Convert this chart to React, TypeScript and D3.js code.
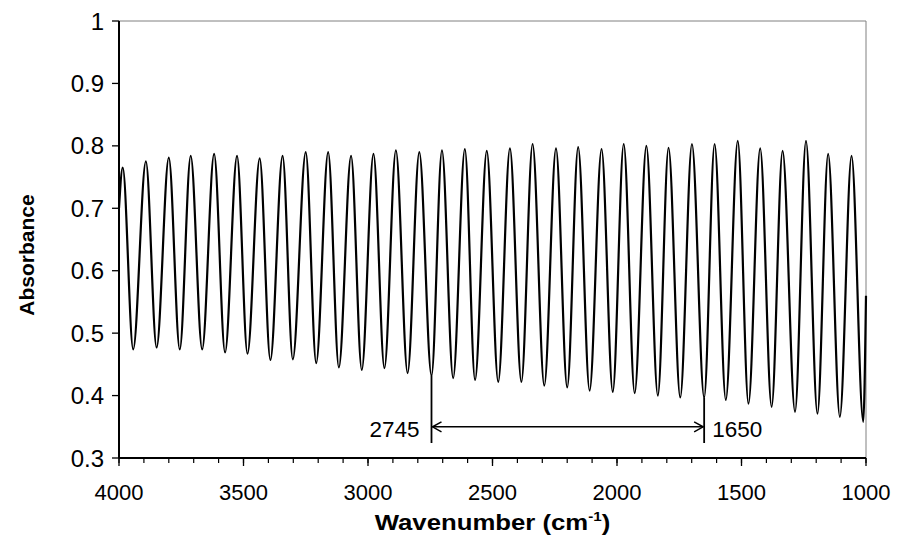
import React from "react";
import * as d3 from "d3";

// Fringe peaks (wavenumber, absorbance)
const peakWavenumbers = [3985, 3892, 3800, 3712, 3618, 3526, 3435, 3343, 3250, 3160, 3068, 2978, 2888, 2794, 2703, 2611, 2523, 2430, 2339, 2245, 2156, 2062, 1973, 1882, 1793, 1699, 1608, 1515, 1425, 1335, 1241, 1152, 1058];
const peakAbsorbance = [0.765, 0.775, 0.781, 0.784, 0.787, 0.784, 0.780, 0.784, 0.790, 0.790, 0.784, 0.787, 0.793, 0.790, 0.793, 0.795, 0.792, 0.796, 0.803, 0.796, 0.798, 0.795, 0.803, 0.800, 0.797, 0.803, 0.803, 0.808, 0.796, 0.792, 0.808, 0.787, 0.784];
// Fringe troughs
const troughWavenumbers = [3943, 3849, 3756, 3666, 3574, 3484, 3392, 3302, 3208, 3117, 3025, 2934, 2841, 2745, 2658, 2570, 2477, 2384, 2292, 2200, 2110, 2017, 1929, 1836, 1746, 1650, 1563, 1472, 1379, 1285, 1195, 1105, 1011];
const troughAbsorbance = [0.474, 0.477, 0.474, 0.474, 0.469, 0.467, 0.457, 0.458, 0.452, 0.445, 0.441, 0.444, 0.436, 0.432, 0.428, 0.425, 0.422, 0.422, 0.416, 0.413, 0.408, 0.406, 0.404, 0.400, 0.397, 0.397, 0.393, 0.387, 0.382, 0.374, 0.371, 0.366, 0.358];
// Spectrum ends
const edgeWavenumbers = [4000, 1000];
const edgeAbsorbance = [0.70, 0.56];

// Axis ticks
const xMajorTicks = [4000, 3500, 3000, 2500, 2000, 1500, 1000];
const xMinorTicks = d3.range(4000, 999, -100);
const yTicks = [0.3, 0.4, 0.5, 0.6, 0.7, 0.8, 0.9, 1];
const yTickLabels = ["0.3", "0.4", "0.5", "0.6", "0.7", "0.8", "0.9", "1"];

// Annotation
const markerWavenumbers = [2745, 1650];
const markerLabels = ["2745", "1650"];
const arrowLevel = 0.35;
const markerBottom = 0.324;

const W = 901;
const H = 545;
const M = { left: 119, right: 866, top: 21, bottom: 458 };
const FONT = "'Liberation Sans', Arial, Helvetica, sans-serif";

export default function App() {
  const x = d3.scaleLinear().domain([4000, 1000]).range([M.left, M.right]);
  const y = d3.scaleLinear().domain([0.3, 1]).range([M.bottom, M.top]);

  const pts: [number, number][] = [];
  edgeWavenumbers.forEach((w, i) => pts.push([w, edgeAbsorbance[i]]));
  peakWavenumbers.forEach((w, i) => pts.push([w, peakAbsorbance[i]]));
  troughWavenumbers.forEach((w, i) => pts.push([w, troughAbsorbance[i]]));
  pts.sort((a, b) => b[0] - a[0]);

  const line = d3
    .line<[number, number]>()
    .x((d) => x(d[0]))
    .y((d) => y(d[1]))
    .curve(d3.curveMonotoneX);

  const markerTop = markerWavenumbers.map((w) => {
    const i = troughWavenumbers.indexOf(w);
    return i >= 0 ? troughAbsorbance[i] : 0.4;
  });

  const ay = y(arrowLevel);
  const xa = x(markerWavenumbers[0]);
  const xb = x(markerWavenumbers[1]);

  return (
    <svg
      width={W}
      height={H}
      style={{ position: "absolute", left: 0, top: 0, background: "#fff" }}
      fontFamily={FONT}
    >
      <rect x={0} y={0} width={W} height={H} fill="#fff" />
      {/* plot frame top/right */}
      <line x1={M.left} x2={M.right} y1={M.top} y2={M.top} stroke="#808080" strokeWidth={1} />
      <line x1={M.right} x2={M.right} y1={M.top} y2={M.bottom} stroke="#808080" strokeWidth={1} />

      {/* spectrum */}
      <path d={line(pts) || ""} fill="none" stroke="#000" strokeWidth={2.2} strokeLinejoin="round" />

      {/* axes */}
      <line x1={M.left} x2={M.left} y1={M.top} y2={M.bottom} stroke="#000" strokeWidth={2} />
      <line x1={M.left} x2={M.right} y1={M.bottom} y2={M.bottom} stroke="#000" strokeWidth={2} />

      {yTicks.map((t, i) => (
        <g key={"y" + t}>
          <line x1={M.left - 7} x2={M.left} y1={y(t)} y2={y(t)} stroke="#000" strokeWidth={1.3} />
          <text x={104} y={y(t)} dy="0.36em" textAnchor="end" fontSize={24} fill="#000">
            {yTickLabels[i]}
          </text>
        </g>
      ))}

      {xMinorTicks.map((t) => (
        <line key={"xm" + t} x1={x(t)} x2={x(t)} y1={M.bottom} y2={M.bottom + 5} stroke="#000" strokeWidth={1.2} />
      ))}
      {xMajorTicks.map((t) => (
        <g key={"x" + t}>
          <line x1={x(t)} x2={x(t)} y1={M.bottom} y2={M.bottom + 8} stroke="#000" strokeWidth={1.3} />
          <text x={x(t)} y={500} textAnchor="middle" fontSize={22} fill="#000">
            {t}
          </text>
        </g>
      ))}

      {/* annotation */}
      {markerWavenumbers.map((w, i) => (
        <line key={"mk" + w} x1={x(w)} x2={x(w)} y1={y(markerTop[i])} y2={y(markerBottom)} stroke="#000" strokeWidth={1.8} />
      ))}
      <line x1={xa + 1} x2={xb - 1} y1={ay} y2={ay} stroke="#000" strokeWidth={1.5} />
      <path d={`M${xa + 10},${ay - 5}L${xa + 1},${ay}L${xa + 10},${ay + 5}`} fill="none" stroke="#000" strokeWidth={1.5} />
      <path d={`M${xb - 10},${ay - 5}L${xb - 1},${ay}L${xb - 10},${ay + 5}`} fill="none" stroke="#000" strokeWidth={1.5} />
      <text x={xa - 12} y={ay + 10} textAnchor="end" fontSize={22.5} fill="#000">
        {markerLabels[0]}
      </text>
      <text x={xb + 8} y={ay + 10} textAnchor="start" fontSize={22.5} fill="#000">
        {markerLabels[1]}
      </text>

      {/* axis titles */}
      <text
        transform={`translate(34,255) rotate(-90)`}
        textAnchor="middle"
        fontSize={21}
        fontWeight="bold"
        fill="#000"
      >
        Absorbance
      </text>
      <g transform={`translate(${(M.left + M.right) / 2},530) scale(1.17,1)`}>
        <text textAnchor="middle" fontSize={22} fontWeight="bold" fill="#000">
          Wavenumber (cm
          <tspan fontSize={13} dy={-9}>-1</tspan>
          <tspan dy={9}>)</tspan>
        </text>
      </g>
    </svg>
  );
}
